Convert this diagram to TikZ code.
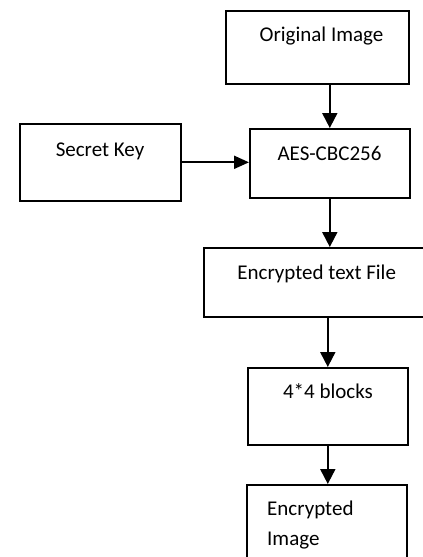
\documentclass[tikz,border=0pt]{standalone}
\usepackage{fontspec}
\setmainfont{Carlito}
\usetikzlibrary{arrows.meta}
\begin{document}
\begin{tikzpicture}[x=1pt,y=-1pt,
  box/.style={draw, line width=1.6pt, inner sep=0pt, anchor=north west},
  lbl/.style={anchor=base, inner sep=0pt, font=\fontsize{21}{30}\selectfont},
  lblw/.style={anchor=base west, inner sep=0pt, font=\fontsize{21}{30}\selectfont},
  conn/.style={line width=2pt, -{Triangle[length=15pt,width=15pt]}}]
\useasboundingbox (0,0) rectangle (423,557);
\fill[white] (0,0) rectangle (423,557);
% boxes
\node[box, minimum width=183pt, minimum height=73pt] (orig) at (225,10) {};
\node[box, minimum width=160pt, minimum height=69pt] (aes) at (249,128) {};
\node[box, minimum width=161pt, minimum height=77pt] (key) at (19,123) {};
\node[box, minimum width=232pt, minimum height=69pt] (enc) at (203,247) {};
\node[box, minimum width=160pt, minimum height=77pt] (blk) at (247,367) {};
\node[box, minimum width=160pt, minimum height=96pt] (img) at (246,484) {};
% labels
\node[lbl] (torig) at (321.5,41) {Original Image};
\node[lbl] (taes) at (329.5,160) {AES-CBC256};
\node[lbl] (tkey) at (100,156) {Secret Key};
\node[lbl] (tenc) at (316.7,279) {Encrypted text File};
\node[lbl] (tblk) at (328,398) {4*4 blocks};
\node[lblw] (timg1) at (267,515) {Encrypted};
\node[lblw] (timg2) at (267,545) {Image};
% connectors
\draw[conn] (orig.south -| aes.north) -- (aes.north);
\draw[line width=2pt, -{Triangle[length=15pt,width=13pt]}] (key.east) -- (key.east -| aes.west);
\draw[conn] (aes.south) -- (aes.south |- enc.north);
\draw[conn] (enc.south -| blk.north) -- (blk.north);
\draw[conn] (blk.south) -- (blk.south |- img.north);
\end{tikzpicture}
\end{document}
